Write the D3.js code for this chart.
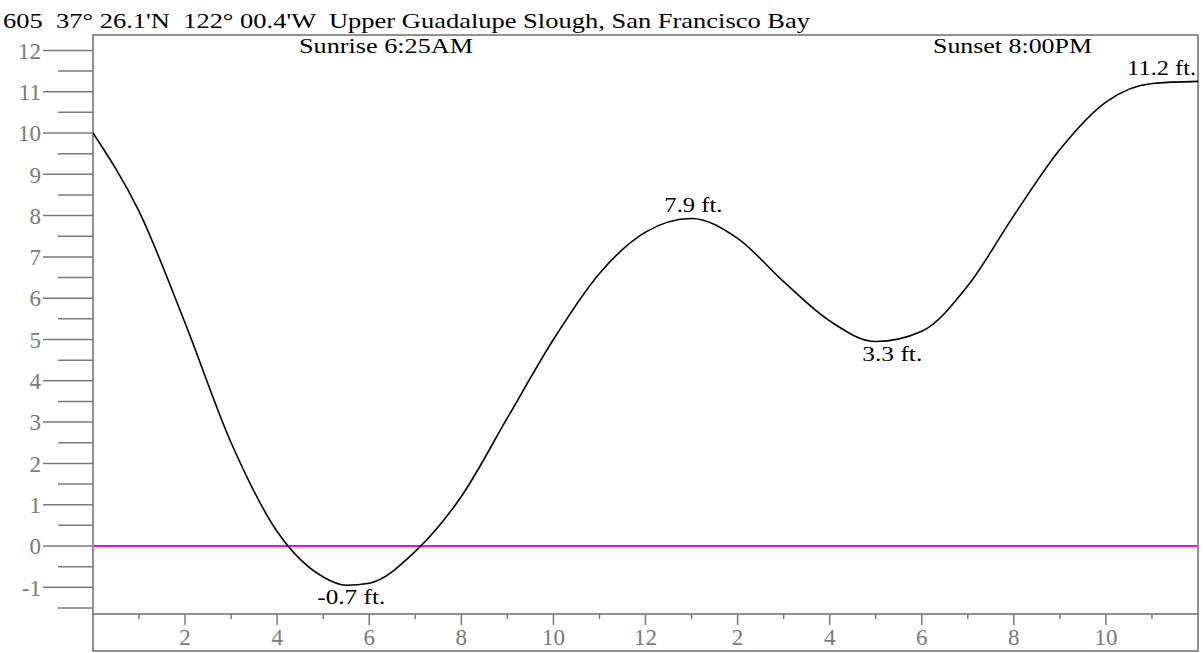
<!DOCTYPE html>
<html><head><meta charset="utf-8">
<script src="https://cdn.jsdelivr.net/npm/d3@7"></script>
<style>body{margin:0;background:#fff}svg{display:block}text{font-family:"Liberation Serif","Times New Roman",serif;white-space:pre}</style>
</head><body><svg id="c" width="1204" height="653"></svg>
<script>
const titleText = "605  37\u00b0 26.1'N  122\u00b0 00.4'W  Upper Guadalupe Slough, San Francisco Bay";
const sunriseText = "Sunrise 6:25AM";
const sunsetText = "Sunset 8:00PM";
// tide curve: hour of day, height in feet
const tideHours = [0,1,2,3,4,5,5.5,6,7,8,9,10,11,12,13,14,15,16,17,18,19,20,21,22,23,24];
const tideFeet  = [10.0,8.1,5.4,2.5,0.35,-0.75,-0.95,-0.9,-0.13,1.2,3.1,5.0,6.6,7.6,7.93,7.45,6.4,5.45,4.95,5.2,6.3,8.0,9.6,10.75,11.2,11.25];
// extreme labels
const extremeHours = [5.61,13.04,17.36,23.21];
const extremeFeet  = [-0.95,7.93,4.93,11.25];
const extremeLabels = ["-0.7 ft.","7.9 ft.","3.3 ft.","11.2 ft."];
const xTickLabels = ["2","4","6","8","10","12","2","4","6","8","10"];
const yTickValues = [-1,0,1,2,3,4,5,6,7,8,9,10,11,12];

const svg = d3.select("#c");
const L=93, R=1198, T=35, AX=614, B=651;
const x = d3.scaleLinear().domain([0,24]).range([L,R]);
const y = d3.scaleLinear().domain([0,12]).range([546,50.4]);
const gray="#7a7a7a";

// frame
svg.append("rect").attr("x",L).attr("y",T).attr("width",R-L).attr("height",B-T)
  .attr("fill","none").attr("stroke","#6e6e6e").attr("stroke-width",1.5);
svg.append("line").attr("x1",L).attr("x2",R).attr("y1",AX).attr("y2",AX).attr("stroke","#6e6e6e").attr("stroke-width",1.5);

// y ticks
const yTicks = d3.range(-3,25).map(d=>d/2).filter(v=>y(v)>T+2 && y(v)<AX-2);
svg.selectAll(".yt").data(yTicks).join("line")
  .attr("x1",d=>Number.isInteger(d)?43:58).attr("x2",L)
  .attr("y1",d=>y(d)).attr("y2",d=>y(d)).attr("stroke",gray).attr("stroke-width",1.5);
svg.selectAll(".yl").data(yTickValues).join("text")
  .attr("x",41).attr("y",d=>y(d)).attr("dy","0.36em").attr("text-anchor","end")
  .attr("font-size",23).attr("fill",gray).text(d=>d);

// x ticks
const xTicks = d3.range(1,24);
svg.selectAll(".xt").data(xTicks).join("line")
  .attr("x1",d=>x(d)).attr("x2",d=>x(d)).attr("y1",AX).attr("y2",d=>d%2===0?AX+11:AX+5)
  .attr("stroke",gray).attr("stroke-width",1.5);
svg.selectAll(".xl").data(xTickLabels).join("text")
  .attr("x",(d,i)=>x(2*(i+1))).attr("y",645).attr("text-anchor","middle")
  .attr("font-size",23).attr("fill",gray).text(d=>d);

// zero line
svg.append("line").attr("x1",L+1).attr("x2",R-1).attr("y1",y(0)).attr("y2",y(0))
  .attr("stroke","#ff00ff").attr("stroke-width",2);

// tide curve
const pts = tideHours.map((h,i)=>[h,tideFeet[i]]);
svg.append("path").datum(pts)
  .attr("d",d3.line().x(d=>x(d[0])).y(d=>y(d[1])).curve(d3.curveMonotoneX))
  .attr("fill","none").attr("stroke","#000").attr("stroke-width",1.6);

// extreme labels
const lblW=[68,58,60,69];
svg.selectAll(".ex").data(extremeLabels).join("text")
  .attr("x",(d,i)=>x(extremeHours[i])).attr("y",(d,i)=>extremeFeet[i]<6 ? y(extremeFeet[i])+19 : y(extremeFeet[i])-6)
  .attr("text-anchor","middle").attr("font-size",20).attr("fill","#000")
  .attr("textLength",(d,i)=>lblW[i]).attr("lengthAdjust","spacingAndGlyphs").text(d=>d);

// title and sun texts
svg.append("text").attr("x",3).attr("y",28).attr("font-size",21).attr("fill","#000")
  .attr("textLength",807).attr("lengthAdjust","spacingAndGlyphs").text(titleText);
svg.append("text").attr("x",299).attr("y",53).attr("font-size",20).attr("fill","#000")
  .attr("textLength",174).attr("lengthAdjust","spacingAndGlyphs").text(sunriseText);
svg.append("text").attr("x",933).attr("y",53).attr("font-size",20).attr("fill","#000")
  .attr("textLength",159).attr("lengthAdjust","spacingAndGlyphs").text(sunsetText);
</script></body></html>
